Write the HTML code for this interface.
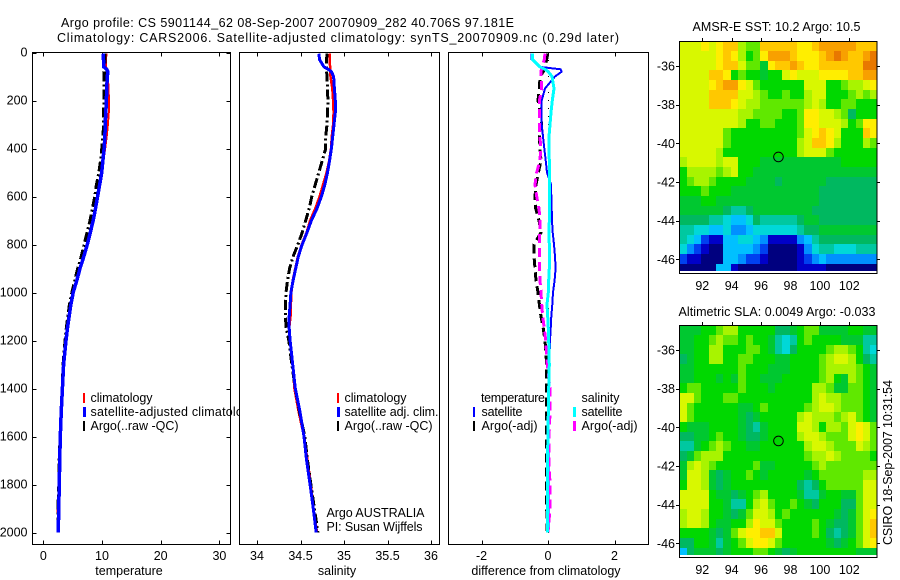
<!DOCTYPE html>
<html>
<head>
<meta charset="utf-8">
<title>Argo profile</title>
<style>
html,body{margin:0;padding:0;background:#fff;}
svg{display:block;}
text{font-family:"Liberation Sans",sans-serif;font-size:12.5px;fill:#000;}
</style>
</head>
<body>
<svg id="fig" xmlns="http://www.w3.org/2000/svg" width="900" height="580" viewBox="0 0 900 580">
  <rect x="0" y="0" width="900" height="580" fill="#fff"/>
  <text x="61" y="27" textLength="453">Argo profile: CS 5901144_62 08-Sep-2007 20070909_282 40.706S 97.181E</text>
  <text x="57" y="42" textLength="562">Climatology: CARS2006. Satellite-adjusted climatology: synTS_20070909.nc (0.29d later)</text>

  <g id="p1"></g>
  <g>
    <rect x="83" y="393" width="2" height="10" fill="#f00"/>
    <text x="90.5" y="402" textLength="62">climatology</text>
    <rect x="83" y="407" width="3" height="10" fill="#00f"/>
    <text x="90.5" y="416" textLength="166">satellite-adjusted climatology</text>
    <rect x="83" y="421" width="2" height="10" fill="#000"/>
    <text x="90.5" y="430" textLength="88">Argo(..raw -QC)</text>
  </g>

  <g id="p2"></g>
  <g>
    <rect x="337" y="393" width="2" height="10" fill="#f00"/>
    <text x="344.5" y="402" textLength="62">climatology</text>
    <rect x="337" y="407" width="3" height="10" fill="#00f"/>
    <text x="344.5" y="416" textLength="94">satellite adj. clim.</text>
    <rect x="337" y="421" width="2" height="10" fill="#000"/>
    <text x="344.5" y="430" textLength="88">Argo(..raw -QC)</text>
    <text x="326.5" y="517" textLength="98">Argo AUSTRALIA</text>
    <text x="326.5" y="531" textLength="96">PI: Susan Wijffels</text>
  </g>

  <g id="p3"></g>
  <g>
    <text x="481" y="402" textLength="64">temperature</text>
    <rect x="473" y="407" width="2" height="10" fill="#00f"/>
    <text x="481.5" y="416" textLength="41">satellite</text>
    <rect x="473" y="421" width="2" height="10" fill="#000"/>
    <text x="481.5" y="430" textLength="56">Argo(-adj)</text>
    <text x="581.5" y="402" textLength="38">salinity</text>
    <rect x="573" y="407" width="3" height="10" fill="#0ff"/>
    <text x="581.5" y="416" textLength="41">satellite</text>
    <rect x="573" y="421" width="3" height="10" fill="#f0f"/>
    <text x="581.5" y="430" textLength="56">Argo(-adj)</text>
  </g>

  <g id="m1"></g>
  <text x="692.5" y="31" textLength="168">AMSR-E SST: 10.2 Argo: 10.5</text>
  <g id="m2"></g>
  <text x="678.5" y="316" textLength="197">Altimetric SLA: 0.0049 Argo: -0.033</text>
  <text transform="translate(892,545) rotate(-90)" x="0" y="0" textLength="165">CSIRO 18-Sep-2007 10:31:54</text>
</svg>
<script>
var depths = [5,30,60,70,80,100,150,200,250,300,350,400,450,500,550,600,650,700,750,800,850,900,950,1000,1050,1100,1150,1200,1300,1400,1500,1600,1700,1800,1900,2000];
var tempClim = [10.75,10.7,10.7,10.9,11,11,11.1,11.2,11.15,11,10.8,10.55,10.25,9.95,9.65,9.3,8.9,8.5,8,7.5,6.95,6.3,5.7,5.1,4.7,4.4,4.1,3.85,3.45,3.25,3.05,2.95,2.75,2.7,2.45,2.5];
var tempSat = [10.2,10.25,10.3,10.8,11,10.9,10.8,10.75,10.65,10.55,10.5,10.35,10.15,9.95,9.6,9.25,8.9,8.5,8,7.5,6.9,6.25,5.7,5.1,4.7,4.4,4.1,3.87,3.45,3.25,3.05,2.9,2.8,2.72,2.62,2.55];
var tempArgo = [10.5,10.5,10.5,10.5,10.4,10.4,10.4,10.4,10.3,10.3,10.2,10,9.8,9.5,9.1,8.8,8.4,8,7.5,7,6.5,5.9,5.4,4.9,4.5,4.2,3.95,3.75,3.4,3.25,3.05,2.9,2.75,2.7,2.5,2.5];
var salClim = [34.835,34.835,34.84,34.84,34.84,34.845,34.865,34.875,34.88,34.875,34.86,34.85,34.83,34.8,34.76,34.72,34.67,34.61,34.57,34.515,34.47,34.44,34.41,34.395,34.39,34.385,34.37,34.38,34.41,34.43,34.48,34.54,34.58,34.62,34.65,34.69];
var salSat = [34.71,34.72,34.77,34.82,34.855,34.88,34.89,34.9,34.9,34.885,34.87,34.855,34.835,34.81,34.78,34.74,34.69,34.625,34.575,34.52,34.475,34.445,34.415,34.39,34.38,34.37,34.37,34.38,34.41,34.44,34.495,34.54,34.57,34.61,34.647,34.68];
var salArgo = [34.805,34.8,34.8,34.797,34.8,34.805,34.81,34.815,34.81,34.805,34.79,34.79,34.75,34.71,34.67,34.63,34.6,34.56,34.52,34.47,34.415,34.375,34.35,34.333,34.325,34.325,34.337,34.365,34.4,34.44,34.49,34.55,34.58,34.62,34.66,34.7];
var diffTempSat = [-0.49,-0.49,-0.24,0.38,0.41,0.21,-0.09,-0.19,-0.2,-0.19,-0.15,-0.11,-0.07,-0.03,0.09,0.1,0.11,0.12,0.14,0.18,0.21,0.23,0.2,0.15,0.13,0.1,0.08,0.06,0.04,0.01,0.01,0.01,0.01,0.01,0.02,0.02];
var diffTempArgo = [-0.02,-0.04,-0.09,-0.1,-0.14,-0.24,-0.26,-0.3,-0.24,-0.19,-0.26,-0.24,-0.21,-0.29,-0.36,-0.39,-0.37,-0.27,-0.21,-0.42,-0.42,-0.39,-0.36,-0.3,-0.26,-0.21,-0.14,-0.09,-0.04,-0.04,-0.04,-0.04,-0.04,-0.04,-0.04,-0.02];
var diffSalSat = [-0.46,-0.46,-0.24,-0.09,0.01,0.12,0.18,0.13,0.09,0.06,0.03,0.03,0.04,0.04,0.04,0.04,0.04,0.04,0.03,0.04,0.04,0.04,0.02,0.01,-0.03,-0.01,0.01,0.02,0.04,0.02,0.01,0,-0.02,-0.02,-0.02,-0.02];
var diffSalArgo = [-0.09,-0.11,-0.19,-0.2,-0.21,-0.21,-0.19,-0.26,-0.26,-0.26,-0.24,-0.22,-0.24,-0.34,-0.39,-0.34,-0.27,-0.24,-0.25,-0.26,-0.26,-0.26,-0.24,-0.21,-0.19,-0.16,-0.11,-0.07,-0.02,0.06,0.06,0.03,0.03,0.06,0.06,0];
var depthTicks = [0,200,400,600,800,1000,1200,1400,1600,1800,2000];
var tempTicks = [0,10,20,30];
var salTicks = ["34","34.5","35","35.5","36"];
var diffTicks = [-2,0,2];
var lonTicks = [92,94,96,98,100,102];
var latTicks = [-36,-38,-40,-42,-44,-46];
var argoLon = 97.181;
var argoLat = -40.706;
var mapLonStart = 90.44;
var mapLatStart = -34.72;
var mapLatEnd = -46.6;
var mapStep = 0.5;
var mapColors = ["#00007f","#0000c8","#0040f0","#0090ff","#00c0ff","#00d8d8","#00c8a0","#00b860","#00c830","#00d800","#60e800","#a8f400","#d8f800","#ffee00","#ffc800","#f8a000","#e87800"];
var sstGrid = [
"cccdcdeeb aaeeeeedd efffffeee",
"cccccdedb 9adfffedd defgfeefg",
"cccccdeec aa8deefed deeeeeegg",
"cccceed9a 99899cdcc cddddeeff",
"ccccdeffd ca999999c cc99abbcd",
"cccceeeec cba99a99b cc999abab",
"cccceeedc bbaaaaaab cb99aa999",
"ccccccccb baaaa99ad dccba7999",
"ccccccccb 99aa999ad dcccb9add",
"cccccca99 9999999ac dedc999ed",
"cccccca99 9999999bc eedb999ba",
"cccccb999 9999999bc cca999999",
"bccccbcc9 998888888 888899999",
"9bbbbabc9 988888888 888888888",
"9abba9999 888878888 887777777",
"999a99988 888888888 877777777",
"888998888 888888888 877777777",
"888888766 788888888 777777777",
"777766544 576666678 877777777",
"665544533 455555567 788888888",
"654211445 543111134 677777777",
"532100444 432000013 566555666",
"211000443 221000012 343333333",
"000004410 000000011 110000000"
];
var slaGrid = [
"88899abb9 99997789a a88889988",
"8899abaa9 a9986569a 999988866",
"8899bb999 aa9865799 99abba965",
"7899bb99a a99988999 9abccb976",
"88999999a 999888999 9abbbba98",
"88999898a 998889999 9ab98ba98",
"9aa99999a 999899999 bba88aa98",
"cca999aa9 999999999 bcbbaaa98",
"ca9999998 89a99999a bccbaaa98",
"ca9999998 7899999bc bbbabca98",
"988899998 7689999cc b9bbacdca",
"77889a998 7789999bc cbaaacdca",
"6689aba99 88999999b ccbaaacba",
"78abbb999 99999999a bbcbaaaa9",
"8bcba9999 9a8899999 abaaaaaaa",
"8ccb87899 a98999998 9aaaaaabb",
"9ccb87899 999999976 79aaaaacc",
"cccc98878 9ab999986 689988acc",
"cccc99866 9bca99a98 799977acc",
"bccb99878 accb9a999 999878acd",
"bccb98899 bdcca9999 a98778ace",
"9999878ac ddeec9999 a97678ace",
"77998689a cddca9999 998789acd",
"478887899 9aa987899 999999888"
];

var NS = "http://www.w3.org/2000/svg";
function make(tag, parent) {
  var el = document.createElementNS(NS, tag);
  parent.appendChild(el);
  return el;
}
function attrs(el, o) {
  for (var k in o) el.setAttribute(k, o[k]);
  return el;
}
function label(parent, txt, x, y, anchor) {
  var t = make("text", parent);
  attrs(t, {x: x, y: y, "text-anchor": anchor});
  t.textContent = txt;
  return t;
}
function yDepth(d) { return 52.5 + 0.24 * d; }

function drawPanel(g, box, xScale, ticks, xTitle, titleX, yTicksOn) {
  var bg = make("rect", g);
  attrs(bg, {x: box.l, y: 52, width: box.r - box.l, height: 493, fill: "#fff"});
  
  
  ticks.forEach(function (v) {
    var x = Math.round(xScale(+v)) + 0.5;
    var top = make("path", g);
    attrs(top, {d: "M" + x + " 52V56.5", stroke: "#000", "stroke-width": 1, fill: "none"});
    
    
    var bot = make("path", g);
    attrs(bot, {d: "M" + x + " 545V540.5", stroke: "#000", "stroke-width": 1, fill: "none"});
    
    
    var lab = label(g, String(v), xScale(+v), 560, "middle");
    
    
  });
  if (yTicksOn) {
    depthTicks.forEach(function (d) {
      var y = Math.round(yDepth(d)) + 0.5;
      var left = make("path", g);
      attrs(left, {d: "M" + box.l + " " + y + "h4.5M" + box.r + " " + y + "h-4.5", stroke: "#000", "stroke-width": 1, fill: "none"});
      
      
      var lab = label(g, String(d), 27.5, yDepth(d) + 4, "end");
      
      
    });
  }
  var title = label(g, xTitle, titleX, 575, "middle");
  
  
}
function drawFrame(g, box) {
  var fr = make("rect", g);
  attrs(fr, {x: box.l + 0.5, y: 52.5, width: box.r - box.l - 1, height: 492, fill: "none", stroke: "#000", "stroke-width": 1});
  
  
}
function drawSeries(g, values, xScale, color, width, dash, name) {
  var d = "";
  values.forEach(function (v, i) {
    d += (i ? "L" : "M") + xScale(v).toFixed(1) + " " + yDepth(depths[i]).toFixed(1);
  });
  var p = make("path", g);
  attrs(p, {d: d, fill: "none", stroke: color, "stroke-width": width, "shape-rendering": "crispEdges"});
  if (dash) p.setAttribute("stroke-dasharray", dash);
  
  
}

var xTemp = function (v) { return 43.3 + 5.87 * v; };
var xSal = function (v) { return 257 + 87 * (v - 34); };
var xDiff = function (v) { return 548 + 33.25 * v; };

var p1 = document.getElementById("p1");
var box1 = {l: 32, r: 231};
drawPanel(p1, box1, xTemp, tempTicks, "temperature", 129, true);
drawSeries(p1, tempClim, xTemp, "#f00", 2, null, "temperature-climatology-line");
drawSeries(p1, tempArgo, xTemp, "#000", 3.5, "10 3 2 3", "temperature-argo-line");
drawSeries(p1, tempSat, xTemp, "#00f", 3.5, null, "temperature-satellite-line");
drawFrame(p1, box1);

var p2 = document.getElementById("p2");
var box2 = {l: 239, r: 440};
drawPanel(p2, box2, xSal, salTicks, "salinity", 337, false);
drawSeries(p2, salClim, xSal, "#f00", 2.5, null, "salinity-climatology-line");
drawSeries(p2, salArgo, xSal, "#000", 3, "10 3 2 3", "salinity-argo-line");
drawSeries(p2, salSat, xSal, "#00f", 3, null, "salinity-satellite-line");
drawFrame(p2, box2);

var p3 = document.getElementById("p3");
var box3 = {l: 448, r: 649};
drawPanel(p3, box3, xDiff, diffTicks, "difference from climatology", 546, false);
var zero = make("path", p3);
attrs(zero, {d: "M" + (Math.round(xDiff(0)) + 0.5) + " 52V533", stroke: "#000", "stroke-width": 1, "stroke-dasharray": "1 7", fill: "none"});


drawSeries(p3, diffTempArgo, xDiff, "#000", 3, "9 5", "difference-temperature-argo-line");
drawSeries(p3, diffTempSat, xDiff, "#00f", 2, null, "difference-temperature-satellite-line");
drawSeries(p3, diffSalArgo, xDiff, "#f0f", 3, "9 5", "difference-salinity-argo-line");
drawSeries(p3, diffSalSat, xDiff, "#0ff", 3, null, "difference-salinity-satellite-line");
drawFrame(p3, box3);

function drawMap(g, grid, top, y36, name) {
  var left = 679, right = 877, bottom = top + 232;
  var xLon = function (lon) { return 702.3 + (lon - 92) * 14.7; };
  var yLat = function (lat) { return y36 + (-36 - lat) * 19.33; };
  var yEnd = yLat(mapLatEnd);
  grid.forEach(function (rowText, r) {
    var row = rowText.replace(/ /g, "");
    for (var c = 0; c < row.length; c++) {
      var level = parseInt(row.charAt(c), 17);
      var x0 = Math.round(xLon(mapLonStart + c * mapStep));
      var x1 = Math.round(xLon(mapLonStart + (c + 1) * mapStep));
      var y0 = Math.round(yLat(mapLatStart - r * mapStep));
      var y1 = Math.min(Math.round(yLat(mapLatStart - (r + 1) * mapStep)), Math.round(yEnd));
      var cell = make("rect", g);
      attrs(cell, {x: x0, y: y0, width: Math.min(x1, right) - x0, height: y1 - y0, fill: mapColors[level], "shape-rendering": "crispEdges"});
      
      
    }
  });
  var fr = make("rect", g);
  attrs(fr, {x: left + 0.5, y: top + 0.5, width: right - left - 0.5, height: bottom - top, fill: "none", stroke: "#000", "stroke-width": 1});
  
  
  lonTicks.forEach(function (lon) {
    var x = Math.round(xLon(lon)) + 0.5;
    var t = make("path", g);
    attrs(t, {d: "M" + x + " " + top + "v-3", stroke: "#000", "stroke-width": 1, fill: "none"});
    
    
    var l = label(g, String(lon), xLon(lon), bottom + 17, "middle");
    
    
  });
  latTicks.forEach(function (lat) {
    var y = Math.round(yLat(lat)) + 0.5;
    var t = make("path", g);
    attrs(t, {d: "M" + left + " " + y + "h-3M" + right + " " + y + "h3", stroke: "#000", "stroke-width": 1, fill: "none"});
    
    
    var l = label(g, String(lat), 675, yLat(lat) + 4.5, "end");
    
    
  });
  var c0 = make("circle", g);
  attrs(c0, {cx: xLon(argoLon), cy: yLat(argoLat), r: 4.8, fill: "none", stroke: "#000", "stroke-width": 1});
  
  
}
drawMap(document.getElementById("m1"), sstGrid, 41, 66, "sst-map");
drawMap(document.getElementById("m2"), slaGrid, 325, 350, "sla-map");
</script>
</body>
</html>
